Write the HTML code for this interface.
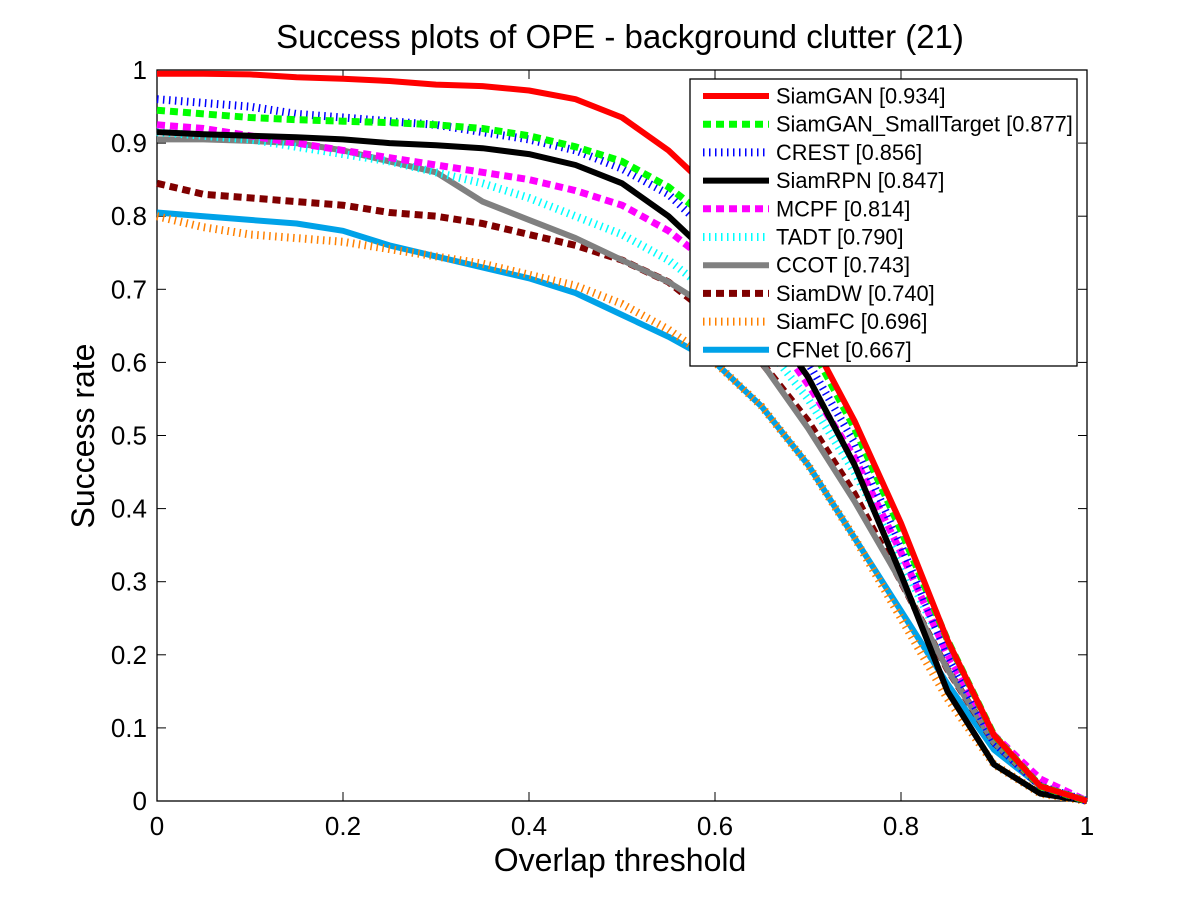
<!DOCTYPE html>
<html><head><meta charset="utf-8"><style>
body{margin:0;background:#fff;}
svg text{font-family:"Liberation Sans",Arial,sans-serif;fill:#000;}
</style></head><body>
<svg id="chart" width="1201" height="901" xmlns="http://www.w3.org/2000/svg">
<rect width="1201" height="901" fill="#fff"/>
<text x="620" y="48" font-size="33" text-anchor="middle">Success plots of OPE - background clutter (21)</text>
<text x="620" y="871" font-size="32" text-anchor="middle">Overlap threshold</text>
<text transform="translate(94,436) rotate(-90)" font-size="32" text-anchor="middle">Success rate</text>
<g id="axes"></g>
<g id="series" clip-path="url(#clip)"></g>
<defs><clipPath id="clip"><rect x="150" y="63" width="944" height="745"/></clipPath></defs>
<g id="legend"></g>
</svg>
<script>
const xs = [0,0.05,0.1,0.15,0.2,0.25,0.3,0.35,0.4,0.45,0.5,0.55,0.6,0.65,0.7,0.75,0.8,0.85,0.9,0.95,1];
const tickVals = [0,0.1,0.2,0.3,0.4,0.5,0.6,0.7,0.8,0.9,1];
const xTickVals = [0,0.2,0.4,0.6,0.8,1];
const names = ["SiamGAN [0.934]","SiamGAN_SmallTarget [0.877]","CREST [0.856]","SiamRPN [0.847]","MCPF [0.814]","TADT [0.790]","CCOT [0.743]","SiamDW [0.740]","SiamFC [0.696]","CFNet [0.667]"];
const siamGAN = [.995,.995,.994,.99,.988,.985,.98,.978,.972,.96,.935,.89,.83,.74,.64,.52,.38,.22,.09,.02,0];
const siamGANSmall = [.945,.94,.935,.932,.93,.928,.925,.92,.91,.895,.875,.84,.79,.72,.63,.51,.37,.22,.09,.02,0];
const crest = [.96,.955,.95,.94,.935,.93,.925,.915,.905,.89,.865,.83,.77,.7,.6,.49,.35,.2,.08,.02,0];
const siamRPN = [.915,.912,.91,.908,.905,.9,.897,.893,.885,.87,.845,.8,.74,.67,.58,.46,.31,.15,.05,.01,0];
const mcpf = [.925,.92,.91,.9,.89,.88,.87,.86,.85,.835,.815,.78,.73,.66,.57,.47,.34,.2,.09,.03,0];
const tadt = [.915,.91,.905,.895,.885,.875,.86,.845,.825,.8,.775,.74,.69,.63,.55,.45,.33,.2,.08,.02,0];
const ccot = [.905,.905,.903,.9,.89,.875,.86,.82,.795,.77,.74,.71,.67,.6,.51,.41,.3,.18,.08,.02,0];
const siamDW = [.845,.83,.825,.82,.815,.805,.8,.79,.775,.76,.74,.71,.66,.6,.52,.42,.3,.18,.08,.02,0];
const siamFC = [.8,.785,.775,.77,.765,.755,.745,.735,.72,.705,.68,.645,.6,.54,.46,.36,.25,.14,.05,.01,0];
const cfNet = [.805,.8,.795,.79,.78,.76,.745,.73,.715,.695,.665,.635,.6,.54,.46,.36,.26,.16,.07,.02,0];
const allSeries = [siamGAN,siamGANSmall,crest,siamRPN,mcpf,tadt,ccot,siamDW,siamFC,cfNet];
const colors = ["#ff0000","#00ff00","#0000ff","#000000","#ff00ff","#00ffff","#808080","#800000","#ff8000","#00a2e8"];
const styles = ["solid","dash","dot","solid","dash","dot","solid","dash","dot","solid"];
const X0=157,X1=1087,Y0=801,Y1=70;
const sx=v=>X0+(X1-X0)*v, sy=v=>Y0-(Y0-Y1)*v;
const NS="http://www.w3.org/2000/svg";
function mk(tag,attrs,parent){const e=document.createElementNS(NS,tag);for(const k in attrs)e.setAttribute(k,attrs[k]);parent.appendChild(e);return e;}
function styleAttrs(s,c){
  if(s==="solid")return {stroke:c,"stroke-width":6,fill:"none"};
  if(s==="dash")return {stroke:c,"stroke-width":7,"stroke-dasharray":"8,5",fill:"none"};
  return {stroke:c,"stroke-width":8,"stroke-dasharray":"1.5,4.5",fill:"none"};
}
const axes=document.getElementById('axes');
const box=mk('rect',{x:X0,y:Y1,width:X1-X0,height:Y0-Y1,fill:"none",stroke:"#000","stroke-width":1.3},axes);


tickVals.forEach(v=>{
  const y=sy(v);
  mk('line',{x1:X0,x2:X0+9,y1:y,y2:y,stroke:"#000"},axes);
  mk('line',{x1:X1,x2:X1-9,y1:y,y2:y,stroke:"#000"},axes);
  const t=mk('text',{x:X0-10,y:y+9,"font-size":26,"text-anchor":"end"},axes);
  t.textContent=String(v);
  
  
});
xTickVals.forEach(v=>{
  const x=sx(v);
  mk('line',{x1:x,x2:x,y1:Y0,y2:Y0-9,stroke:"#000"},axes);
  mk('line',{x1:x,x2:x,y1:Y1,y2:Y1+9,stroke:"#000"},axes);
  const t=mk('text',{x:x,y:Y0+34,"font-size":26,"text-anchor":"middle"},axes);
  t.textContent=String(v);
  
  
});
const sg=document.getElementById('series');
for(let i=allSeries.length-1;i>=0;i--){
  const d=allSeries[i].map((v,j)=>(j?'L':'M')+sx(xs[j]).toFixed(1)+','+sy(v).toFixed(1)).join(' ');
  const p=mk('path',Object.assign({d:d,"stroke-linejoin":"round"},styleAttrs(styles[i],colors[i])),sg);
  
  
}
const lg=document.getElementById('legend');
const lb=mk('rect',{x:690,y:79,width:387,height:287,fill:"#fff",stroke:"#000","stroke-width":1.3},lg);


names.forEach((n,i)=>{
  const y=96+i*28.2;
  const l=mk('line',Object.assign({x1:703,x2:769,y1:y,y2:y},styleAttrs(styles[i],colors[i])),lg);
  
  
  const t=mk('text',{x:776,y:y+7.5,"font-size":21.8},lg);
  t.textContent=n;
  
  
});
</script>
</body></html>
